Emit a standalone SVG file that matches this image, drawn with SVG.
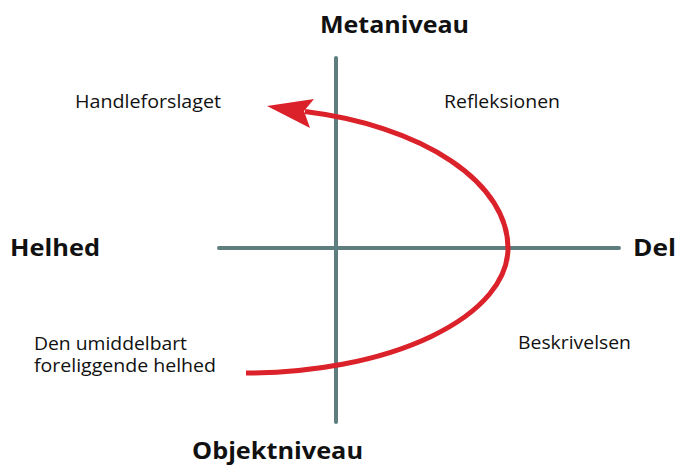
<svg xmlns="http://www.w3.org/2000/svg" width="676" height="466" viewBox="0 0 676 466">
<style>
.ax{stroke:#5f7d7d;stroke-width:4;stroke-linecap:round;fill:none}
.cv{stroke:#db2129;stroke-width:5;fill:none}
.lb{font-family:"Open Sans","Liberation Sans",sans-serif;font-size:18px;fill:#111}
.tt{font-family:"Open Sans","Liberation Sans",sans-serif;font-size:24px;font-weight:bold;fill:#111}
</style>
<rect width="676" height="466" fill="#fff"/>
<g id="axes">
<line class="ax" x1="336" y1="58" x2="336" y2="422"/>
<line class="ax" x1="219" y1="248" x2="619" y2="248"/>
</g>
<g id="connectors">
<path class="cv" d="M246,373 A262,125 0 0 0 508,248 A262,140 0 0 0 305,111.6"/>
<polygon fill="#db2129" points="267,106 314,99 304,111 310,128"/>
</g>
<g id="metaniveau"><text class="tt" x="320" y="33" textLength="149" lengthAdjust="spacingAndGlyphs">Metaniveau</text></g>
<g id="objektniveau"><text class="tt" x="192" y="459" textLength="171" lengthAdjust="spacingAndGlyphs">Objektniveau</text></g>
<g id="helhed"><text class="tt" x="10" y="256" textLength="90" lengthAdjust="spacingAndGlyphs">Helhed</text></g>
<g id="del"><text class="tt" x="633" y="256" textLength="43" lengthAdjust="spacingAndGlyphs">Del</text></g>
<g id="handleforslaget"><text class="lb" x="75" y="108" textLength="146" lengthAdjust="spacingAndGlyphs">Handleforslaget</text></g>
<g id="refleksionen"><text class="lb" x="444" y="108" textLength="116" lengthAdjust="spacingAndGlyphs">Refleksionen</text></g>
<g id="beskrivelsen"><text class="lb" x="518" y="349" textLength="113" lengthAdjust="spacingAndGlyphs">Beskrivelsen</text></g>
<g id="den-umiddelbart"><text class="lb" x="34" y="350"><tspan textLength="153" lengthAdjust="spacingAndGlyphs">Den umiddelbart</tspan><tspan x="34" y="372" textLength="182" lengthAdjust="spacingAndGlyphs">foreliggende helhed</tspan></text></g>
</svg>
